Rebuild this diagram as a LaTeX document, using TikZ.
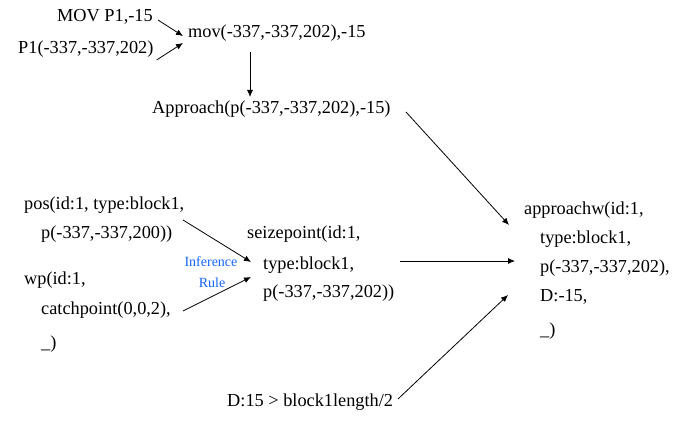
\documentclass[tikz,border=0pt]{standalone}
\usepackage{fontspec}
\setmainfont{Liberation Serif}
\usetikzlibrary{arrows.meta,calc}
\definecolor{rulecol}{RGB}{20,100,255}
\begin{document}
\begin{tikzpicture}[x=1pt,y=-1pt,
  txt/.style={anchor=base west,inner sep=0pt,font=\fontsize{18.3}{22}\selectfont},
  rulelbl/.style={anchor=base,inner sep=0pt,text=rulecol,font=\fontsize{14}{16}\selectfont},
  arr/.style={-{Latex[length=7pt,width=6pt]},line width=0.8pt}]
\useasboundingbox (0,0) rectangle (689,430);

% robot command and the point it refers to
\node[txt] (movcmd) at (57,22) {MOV P1,-15};
\node[txt] (p1) at (18,54) {P1(-337,-337,202)};
\node[txt] (mov) at (188,38) {mov(-337,-337,202),-15};
\node[txt] (appr) at (152,114) {Approach(p(-337,-337,202),-15)};

% facts about the block and the work piece
\node[txt] (posa) at (24,210) {pos(id:1, type:block1,};
\node[txt] (posb) at (41,239) {p(-337,-337,200))};
\node[txt] (wpa) at (24,285) {wp(id:1,};
\node[txt] (wpb) at (41,315) {catchpoint(0,0,2),};
\node[txt] (wpc) at (41,349) {\_)};

% inferred grasp point
\node[txt] (seiza) at (247,239) {seizepoint(id:1,};
\node[txt] (seizb) at (263,270) {type:block1,};
\node[txt] (seizc) at (263,298) {p(-337,-337,202))};

\node[rulelbl] (rule1) at (211,267) {Inference};
\node[rulelbl] (rule2) at (212,288) {Rule};

% resulting approach fact
\node[txt] (apwa) at (524,215) {approachw(id:1,};
\node[txt] (apwb) at (540,244) {type:block1,};
\node[txt] (apwc) at (540,273) {p(-337,-337,202),};
\node[txt] (apwd) at (540,302) {D:-15,};
\node[txt] (apwe) at (540,336) {\_)};

\node[txt] (dcond) at (227,407) {D:15 > block1length/2};

% connectors
\draw[arr] ($(movcmd.base east)+(5,-2)$) -- ($(mov.base west)+(-5,-2)$);
\draw[arr] ($(p1.base east)+(3,6)$) -- ($(mov.base west)+(-5,5)$);
\draw[arr] ($(mov.base west)+(62,14)$) -- ($(appr.base west)+(98,-17)$);
\draw[arr] ($(appr.base west)+(254,-2)$) -- ($(apwa.base west)+(-15,10)$);
\draw[arr] ($(posa.base west)+(159,10)$) -- ($(seizb.base west)+(-12,-8)$);
\draw[arr] ($(wpb.base west)+(142,-4)$) -- ($(seizb.base west)+(-12,7)$);
\draw[arr] ($(seizb.base west)+(137,-9)$) -- ($(apwc.base west)+(-25,-12)$);
\draw[arr] ($(dcond.base west)+(171,-8)$) -- ($(apwd.base west)+(-32,-7)$);
\end{tikzpicture}
\end{document}
